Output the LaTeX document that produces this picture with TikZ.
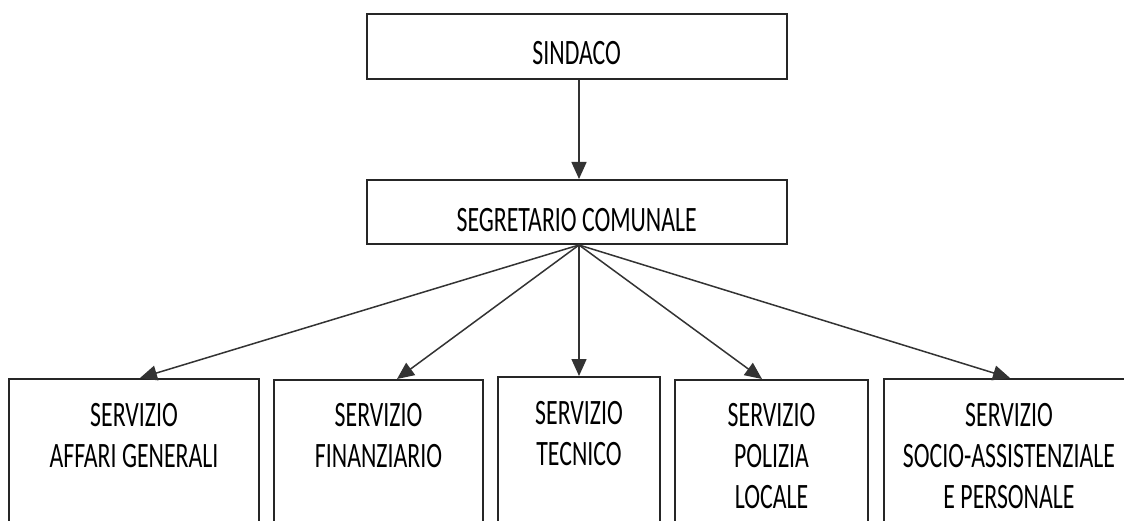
\documentclass[tikz,border=0pt]{standalone}
\usepackage{fontspec}
\setmainfont{Carlito}[FakeStretch=0.667]
\usetikzlibrary{arrows.meta,calc}
\begin{document}
\begin{tikzpicture}[x=1pt,y=-1pt,
  box/.style={draw=black!85,line width=2pt,rectangle,inner sep=0pt,fill=white},
  topbox/.style={box,minimum width=420pt,font=\fontsize{35.7}{41}\selectfont},
  lowbox/.style={box,anchor=north,minimum height=200pt},
  txt/.style={inner sep=0pt,align=center,anchor=north,font=\fontsize{35.7}{41}\selectfont},
  arr/.style={draw=black!80,line width=1.5pt,-{Triangle[length=17pt,width=15pt]}}]
\path[use as bounding box] (0,0) rectangle (1124,521);
\clip (0,0) rectangle (1124,521);
\fill[white] (0,0) rectangle (1124,521);
\node[topbox,text height=51pt,text depth=14pt] (sind) at (576.7,46.5) {SINDACO};
\node[topbox,text height=52pt,text depth=12pt] (seg) at (576.7,212) {SEGRETARIO COMUNALE};
\node[lowbox,minimum width=250pt] (b1) at (134,378) {};
\node[lowbox,minimum width=209pt] (b2) at (378.5,379) {};
\node[lowbox,minimum width=162pt] (b3) at (579,376) {};
\node[lowbox,minimum width=193pt] (b4) at (771.5,379) {};
\node[lowbox,minimum width=250pt] (b5) at (1009,378) {};
\node[txt] (t1) at (134,403) {SERVIZIO\\AFFARI GENERALI};
\node[txt] (t2) at (378.5,403) {SERVIZIO\\FINANZIARIO};
\node[txt] (t3) at (579,401) {SERVIZIO\\TECNICO};
\node[txt] (t4) at (771.5,403) {SERVIZIO\\POLIZIA\\LOCALE};
\node[txt] (t5) at (1009,403) {SERVIZIO\\SOCIO-ASSISTENZIALE\\E PERSONALE};
\draw[arr] ($(sind.south)+(2.3,0)$) -- ($(seg.north)+(2.3,0)$);
\coordinate (o) at ($(seg.south)+(2.3,0)$);
\draw[arr] (o) -- ($(b1.north)+(6,0)$);
\draw[arr] (o) -- ($(b2.north)+(18.5,0)$);
\draw[arr] (o) -- (b3.north);
\draw[arr] (o) -- ($(b4.north)+(-9.5,0)$);
\draw[arr] (o) -- ($(b5.north)+(1,0)$);
\end{tikzpicture}
\end{document}
